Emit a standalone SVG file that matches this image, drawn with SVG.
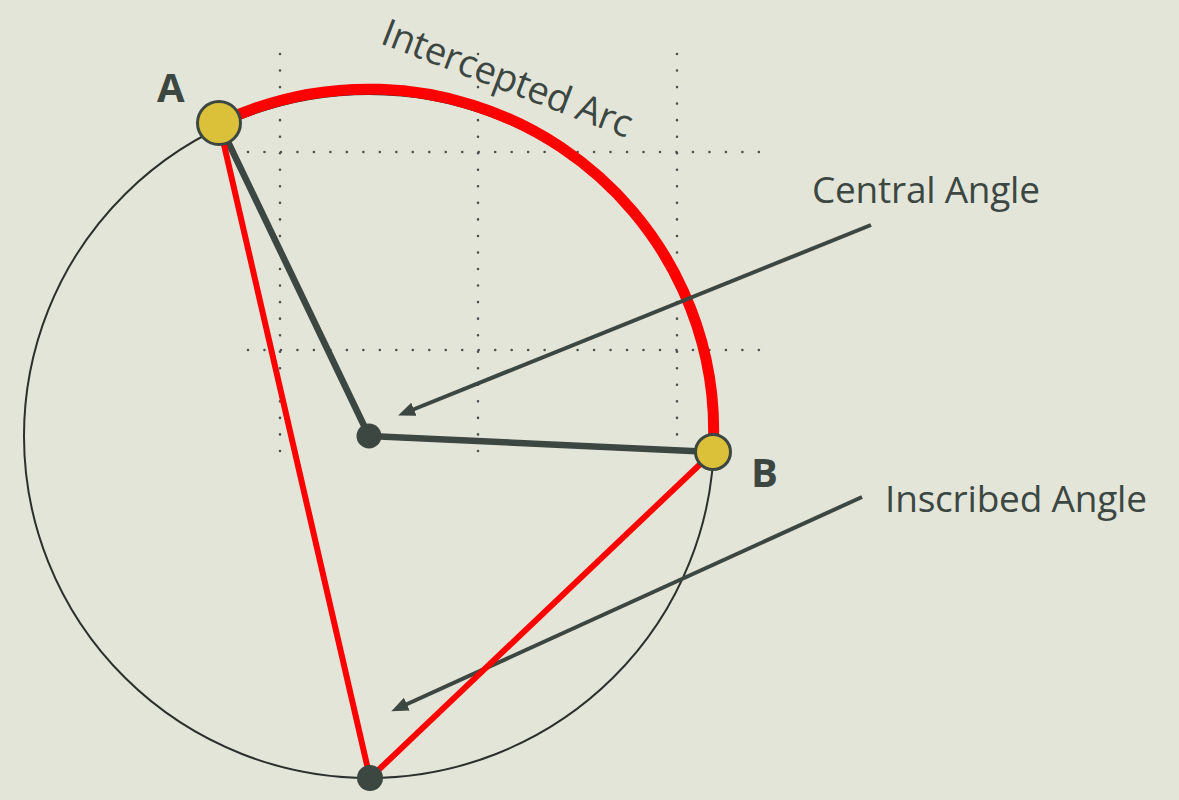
<svg xmlns="http://www.w3.org/2000/svg" width="1179" height="800" viewBox="0 0 1179 800">
  <style>
    .grid { stroke: #4b524e; stroke-width: 2.6; stroke-linecap: round; fill: none; }
    .gv { stroke-dasharray: 0 16.54; }
    .gh { stroke-dasharray: 0 16.48; }
    .radius { stroke: #3c4742; stroke-width: 6.5; fill: none; }
    .chord { stroke: #ff0000; stroke-width: 6; fill: none; }
    .arrow { stroke: #3c4742; stroke-width: 4; fill: none; }
    .label { font-family: "Open Sans", "Liberation Sans", sans-serif; font-size: 37px; fill: #3c4742; }
    .pt { font-family: "Open Sans", "Liberation Sans", sans-serif; font-size: 40px; font-weight: bold; fill: #3c4742; }
    .gold { fill: #dbc03a; stroke: #3c4742; stroke-width: 3; }
    .dot { fill: #3c4742; }
  </style>
  <defs>
    <marker id="head" viewBox="0 -8 18 16" refX="2" refY="0" markerWidth="18" markerHeight="16" markerUnits="userSpaceOnUse" orient="auto">
      <path d="M0,-7 L17,0 L0,7 z" fill="#3c4742"/>
    </marker>
  </defs>
  <rect x="0" y="0" width="1179" height="800" fill="#e4e5d9"/>

  <g id="grid">
    <line class="grid gv" x1="280" y1="54" x2="280" y2="451"/>
    <line class="grid gv" x1="478" y1="54" x2="478" y2="451"/>
    <line class="grid gv" x1="677" y1="54" x2="677" y2="451"/>
    <line class="grid gh" x1="248" y1="152" x2="759" y2="152"/>
    <line class="grid gh" x1="248" y1="350" x2="759" y2="350"/>
  </g>

  <g id="circle">
    <ellipse cx="369" cy="436" rx="345" ry="342" fill="none" stroke="#2b302d" stroke-width="2"/>
  </g>

  <g id="arc">
    <path d="M219,123 A345,342 0 0 1 713,452" fill="none" stroke="#ff0000" stroke-width="11"/>
  </g>

  <g id="connectors">
    <line class="arrow" x1="871" y1="225" x2="412" y2="410" marker-end="url(#head)"/>
    <line class="radius" x1="369" y1="436" x2="219" y2="123"/>
    <line class="radius" x1="369" y1="436" x2="713" y2="452"/>
    <line class="arrow" x1="862" y1="497" x2="405" y2="705" marker-end="url(#head)"/>
    <line class="chord" x1="219" y1="123" x2="370" y2="778"/>
    <line class="chord" x1="713" y1="452" x2="370" y2="778"/>
  </g>

  <g id="node-O">
    <circle class="dot" cx="369" cy="436" r="12.5"/>
  </g>
  <g id="node-C">
    <circle class="dot" cx="370" cy="778" r="13"/>
  </g>
  <g id="node-A">
    <circle class="gold" cx="219" cy="123" r="21.5"/>
    <text class="pt" x="157" y="102">A</text>
  </g>
  <g id="node-B">
    <circle class="gold" cx="713" cy="452" r="17.5"/>
    <text class="pt" x="751" y="487">B</text>
  </g>

  <g id="label-arc">
    <text class="label" x="379" y="43" transform="rotate(21 379 43)" style="font-size:38px" textLength="265">Intercepted Arc</text>
  </g>
  <g id="label-central">
    <text class="label" x="812" y="203" textLength="228">Central Angle</text>
  </g>
  <g id="label-inscribed">
    <text class="label" x="885" y="512" textLength="262">Inscribed Angle</text>
  </g>
</svg>
